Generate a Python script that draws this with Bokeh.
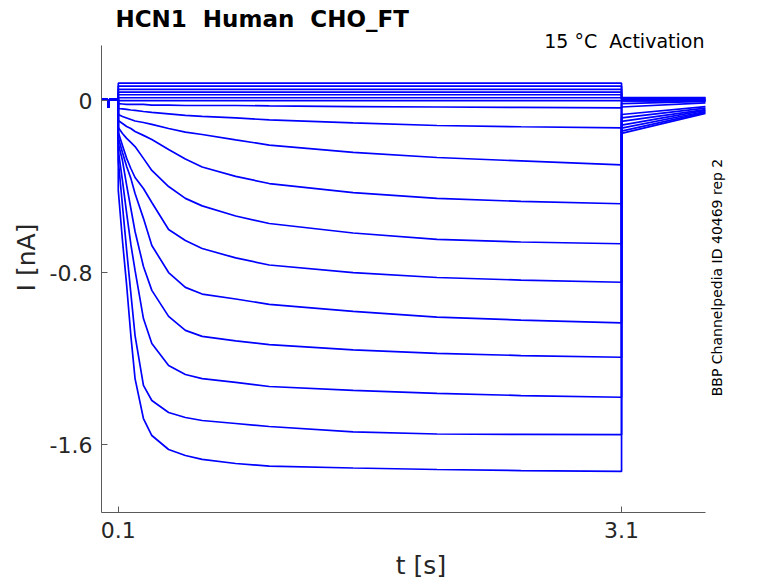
from bokeh.plotting import figure
from bokeh.models import FixedTicker, Label, Range1d
from bokeh.embed import file_html
from bokeh.resources import INLINE
import math

# ---------------- data ----------------
# holding segment before the voltage step (s, nA)
t_hold = [0.0, 0.038, 0.039, 0.045, 0.046, 0.1]
i_hold = [0.005, 0.005, -0.03, -0.03, 0.005, 0.005]

# sample times during the activation step (s)
t_step = [0.1, 0.125, 0.15, 0.175, 0.2, 0.25, 0.3, 0.4, 0.5, 0.6, 0.8, 1.0, 1.5, 2.0, 2.5, 3.1]

# sweeps with an almost flat current during the step (nA)
t_flat = [0.1, 3.1]
flat_levels = [0.082, 0.068, 0.053, 0.040, 0.028, 0.014, 0.001]

# activating sweeps (nA), sampled at t_step
sweep_01 = [-0.013, -0.015, -0.017, -0.017, -0.017, -0.017, -0.020, -0.020, -0.022, -0.022, -0.022, -0.024, -0.027, -0.029, -0.031, -0.033]
sweep_02 = [-0.036, -0.038, -0.040, -0.043, -0.045, -0.050, -0.054, -0.061, -0.068, -0.073, -0.080, -0.089, -0.103, -0.115, -0.121, -0.126]
sweep_03 = [-0.064, -0.073, -0.080, -0.087, -0.094, -0.101, -0.110, -0.129, -0.146, -0.157, -0.182, -0.206, -0.240, -0.264, -0.280, -0.298]
sweep_04 = [-0.092, -0.106, -0.120, -0.129, -0.143, -0.161, -0.180, -0.227, -0.271, -0.308, -0.352, -0.385, -0.427, -0.454, -0.468, -0.479]
sweep_05 = [-0.124, -0.152, -0.175, -0.194, -0.213, -0.268, -0.324, -0.399, -0.454, -0.489, -0.536, -0.571, -0.615, -0.645, -0.657, -0.665]
sweep_06 = [-0.147, -0.208, -0.268, -0.315, -0.357, -0.408, -0.473, -0.599, -0.650, -0.687, -0.731, -0.764, -0.799, -0.822, -0.834, -0.844]
sweep_07 = [-0.171, -0.241, -0.306, -0.361, -0.431, -0.547, -0.673, -0.799, -0.868, -0.899, -0.922, -0.947, -0.980, -1.006, -1.020, -1.033]
sweep_08 = [-0.199, -0.278, -0.394, -0.501, -0.608, -0.771, -0.882, -1.003, -1.068, -1.096, -1.117, -1.134, -1.159, -1.175, -1.185, -1.193]
sweep_09 = [-0.231, -0.371, -0.524, -0.668, -0.789, -1.013, -1.129, -1.231, -1.273, -1.292, -1.310, -1.329, -1.347, -1.361, -1.371, -1.379]
sweep_10 = [-0.278, -0.487, -0.696, -0.896, -1.092, -1.324, -1.394, -1.450, -1.473, -1.487, -1.501, -1.515, -1.540, -1.550, -1.552, -1.553]
sweep_11 = [-0.417, -0.650, -0.859, -1.092, -1.292, -1.478, -1.557, -1.622, -1.650, -1.668, -1.687, -1.699, -1.708, -1.715, -1.720, -1.724]

# tail currents after the step (flat sweeps first, then sweep_01..sweep_11)
t_tail = [3.1, 3.6]
tail_start = [0.015, 0.013, 0.011, 0.008, 0.006, 0.004, 0.001,
              0.001, -0.001, -0.013, -0.029, -0.064, -0.080, -0.096, -0.113, -0.127, -0.141, -0.152]
tail_end = [0.015, 0.013, 0.011, 0.008, 0.006, 0.004, 0.001,
            0.001, -0.001, -0.003, -0.010, -0.027, -0.034, -0.041, -0.045, -0.050, -0.054, -0.059]

x_ticks = [0.1, 3.1]
y_ticks = [-1.6, -0.8, 0]
y_tick_labels = {-1.6: "-1.6", -0.8: "-0.8", 0: "0"}

title_text = "HCN1\u00a0 Human\u00a0 CHO_FT"
cond_text = "15 \u00b0C\u00a0 Activation"
side_text = "BBP Channelpedia ID 40469 rep 2"

# ---------------- build sweeps ----------------
step_sweeps = [(t_flat, [lv, lv]) for lv in flat_levels]
for s in [sweep_01, sweep_02, sweep_03, sweep_04, sweep_05, sweep_06,
          sweep_07, sweep_08, sweep_09, sweep_10, sweep_11]:
    step_sweeps.append((t_step, s))

xs, ys = [], []
for k, (ts, cur) in enumerate(step_sweeps):
    xs.append(list(t_hold) + list(ts) + list(t_tail))
    ys.append(list(i_hold) + list(cur) + [tail_start[k], tail_end[k]])

# ---------------- figure ----------------
FONT = "DejaVu Sans"
X_END, Y_BOT, Y_TOP = 3.6, -1.915, 0.257
p = figure(frame_width=639, frame_height=510,
           x_range=Range1d(0, 3.809), y_range=Range1d(Y_BOT, 0.457),
           output_backend="svg", toolbar_location=None,
           min_border_left=101, min_border_right=18,
           min_border_top=2, min_border_bottom=62)
p.outline_line_color = None
p.background_fill_color = "white"
p.border_fill_color = "white"
p.grid.visible = False

p.multi_line(xs=xs, ys=ys, line_color="#0000ff", line_width=1.7)

for ax in (p.xaxis[0], p.yaxis[0]):
    ax.axis_line_color = "#5a5a5a"
    ax.major_tick_line_color = "#5a5a5a"
    ax.major_tick_in = 6
    ax.major_tick_out = 0
    ax.minor_tick_line_color = None
    ax.major_label_text_font = FONT
    ax.major_label_text_font_size = "22px"
    ax.major_label_text_color = "#262626"
    ax.axis_label_text_font = FONT
    ax.axis_label_text_font_size = "25px"
    ax.axis_label_text_font_style = "normal"
    ax.axis_label_text_color = "#262626"

p.xaxis[0].bounds = (0, X_END)
p.xaxis[0].ticker = FixedTicker(ticks=x_ticks)
p.xaxis[0].major_label_overrides = {0.1: "0.1", 3.1: "3.1"}
p.xaxis[0].axis_label = "t [s]"
p.xaxis[0].major_label_standoff = 9
p.xaxis[0].axis_label_standoff = 10

p.yaxis[0].bounds = (Y_BOT, Y_TOP)
p.yaxis[0].ticker = FixedTicker(ticks=y_ticks)
p.yaxis[0].major_label_overrides = y_tick_labels
p.yaxis[0].axis_label = "I [nA]"
p.yaxis[0].major_label_standoff = 9
p.yaxis[0].axis_label_standoff = 6

p.add_layout(Label(x=0.083, y=0.379, text=title_text, text_align="left",
                   text_baseline="alphabetic", text_font=FONT,
                   text_font_size="23px", text_font_style="bold",
                   text_color="black"))
p.add_layout(Label(x=3.594, y=0.28, text=cond_text, text_align="right",
                   text_baseline="alphabetic", text_font=FONT,
                   text_font_size="19px", text_color="black"))
p.add_layout(Label(x=3.671, y=-0.822, text=side_text, angle=math.pi / 2,
                   text_align="center", text_baseline="middle",
                   text_font=FONT, text_font_size="14px", text_color="black"))

open("out.html", "w").write(file_html(p, INLINE))
